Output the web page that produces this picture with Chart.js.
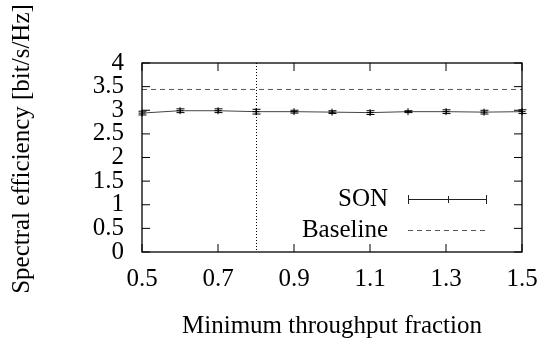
<!DOCTYPE html>
<html>
<head>
<meta charset="utf-8">
<script src="https://cdn.jsdelivr.net/npm/chart.js@4.4.0/dist/chart.umd.min.js"></script>
<style>
  body { margin: 0; background: #fff; }
  #wrap { width: 540px; height: 339px; }
</style>
</head>
<body>
<div id="wrap"><canvas id="grafico" width="540" height="339"></canvas></div>
<script>
// datos
const fracciones = [0.5, 0.6, 0.7, 0.8, 0.9, 1.0, 1.1, 1.2, 1.3, 1.4, 1.5];
const sonValores = [2.94, 2.99, 2.99, 2.97, 2.97, 2.96, 2.95, 2.97, 2.97, 2.96, 2.97];
const sonError = [0.04, 0.04, 0.04, 0.05, 0.03, 0.03, 0.04, 0.02, 0.04, 0.04, 0.04];
const baselineValor = 3.44;
const limiteVertical = 0.8;
const xTicks = [0.5, 0.7, 0.9, 1.1, 1.3, 1.5];
const xTickLabels = ['0.5', '0.7', '0.9', '1.1', '1.3', '1.5'];
const yTicks = [0, 0.5, 1, 1.5, 2, 2.5, 3, 3.5, 4];
const yTickLabels = ['0', '0.5', '1', '1.5', '2', '2.5', '3', '3.5', '4'];
const leyenda = ['SON', 'Baseline'];
const tituloY = 'Spectral efficiency [bit/s/Hz]';

const fuente = 'Liberation Serif';

// barras de error, linea vertical, marco, ticks hacia dentro, leyenda y titulo Y
const extras = {
  id: 'extras',
  beforeDatasetsDraw(chart) {
    const ctx = chart.ctx;
    const x = chart.scales.x, a = chart.chartArea;
    const px = x.getPixelForValue(limiteVertical);
    ctx.save();
    ctx.strokeStyle = '#000';
    ctx.lineWidth = 1;
    ctx.setLineDash([1, 2]);
    ctx.beginPath();
    ctx.moveTo(Math.round(px) + 0.5, a.top);
    ctx.lineTo(Math.round(px) + 0.5, a.bottom);
    ctx.stroke();
    ctx.restore();
  },
  afterDatasetsDraw(chart) {
    const ctx = chart.ctx;
    const x = chart.scales.x, y = chart.scales.y, a = chart.chartArea;
    ctx.save();
    ctx.strokeStyle = '#000';
    ctx.lineWidth = 1;

    // barras de error
    fracciones.forEach((f, i) => {
      const px = Math.round(x.getPixelForValue(f)) + 0.5;
      const y1 = y.getPixelForValue(sonValores[i] + sonError[i]);
      const y2 = y.getPixelForValue(sonValores[i] - sonError[i]);
      ctx.beginPath();
      ctx.moveTo(px, y1); ctx.lineTo(px, y2);
      ctx.moveTo(px - 4, y1); ctx.lineTo(px + 4, y1);
      ctx.moveTo(px - 4, y2); ctx.lineTo(px + 4, y2);
      ctx.stroke();
    });

    // marco
    ctx.lineWidth = 1.3;
    ctx.strokeRect(a.left, a.top, a.right - a.left, a.bottom - a.top);

    // ticks hacia dentro
    ctx.lineWidth = 1;
    const tl = 8;
    ctx.beginPath();
    xTicks.forEach(v => {
      const px = x.getPixelForValue(v);
      ctx.moveTo(px, a.bottom); ctx.lineTo(px, a.bottom - tl);
      ctx.moveTo(px, a.top); ctx.lineTo(px, a.top + tl);
    });
    yTicks.forEach(v => {
      const py = y.getPixelForValue(v);
      ctx.moveTo(a.left, py); ctx.lineTo(a.left + tl, py);
      ctx.moveTo(a.right, py); ctx.lineTo(a.right - tl, py);
    });
    ctx.stroke();

    // leyenda
    ctx.font = '25px "' + fuente + '"';
    ctx.fillStyle = '#000';
    ctx.textAlign = 'right';
    ctx.textBaseline = 'middle';
    const xt = 388, x1 = 408, x2 = 487;
    const ySon = 199, yBase = 230;
    ctx.fillText(leyenda[0], xt, ySon);
    ctx.fillText(leyenda[1], xt, yBase);

    ctx.strokeStyle = '#222';
    ctx.beginPath();
    ctx.moveTo(x1, ySon + 0.5); ctx.lineTo(x2, ySon + 0.5);
    ctx.moveTo(x1 + 0.5, ySon - 4); ctx.lineTo(x1 + 0.5, ySon + 5);
    ctx.moveTo(x2 - 0.5, ySon - 4); ctx.lineTo(x2 - 0.5, ySon + 5);
    const xm = Math.round((x1 + x2) / 2) + 0.5;
    ctx.moveTo(xm, ySon - 3); ctx.lineTo(xm, ySon + 4);
    ctx.stroke();

    ctx.strokeStyle = '#555';
    ctx.setLineDash([5, 4]);
    ctx.beginPath();
    ctx.moveTo(x1, yBase + 0.5); ctx.lineTo(x2, yBase + 0.5);
    ctx.stroke();

    // titulo del eje Y
    ctx.translate(22, 149);
    ctx.rotate(-Math.PI / 2);
    ctx.textAlign = 'center';
    ctx.fillText(tituloY, 0, 0);
    ctx.restore();
  }
};

window.onload = function () {
  const ctx = document.getElementById('grafico').getContext('2d');

  new Chart(ctx, {
    type: 'line',
    data: {
      datasets: [
        {
          label: leyenda[0],
          data: fracciones.map((f, i) => ({ x: f, y: sonValores[i] })),
          borderColor: '#444',
          borderWidth: 1,
          pointStyle: 'cross',
          pointRadius: 3.5,
          pointBorderColor: '#000',
          pointBorderWidth: 1,
          tension: 0,
          clip: false
        },
        {
          label: leyenda[1],
          data: [{ x: xTicks[0], y: baselineValor }, { x: xTicks[xTicks.length - 1], y: baselineValor }],
          borderColor: '#555',
          borderWidth: 1,
          borderDash: [5, 4],
          pointRadius: 0,
          tension: 0
        }
      ]
    },
    options: {
      responsive: false,
      animation: false,
      devicePixelRatio: 1,
      layout: { padding: { top: 63, right: 18, left: 0, bottom: 0 } },
      plugins: {
        legend: { display: false },
        tooltip: { enabled: false }
      },
      scales: {
        x: {
          type: 'linear',
          min: 0.5,
          max: 1.5,
          afterBuildTicks: s => { s.ticks = xTicks.map(v => ({ value: v })); },
          afterFit: s => { s.height = 87; s.paddingRight = 0; s.paddingLeft = 0; },
          grid: { display: false, drawTicks: false },
          border: { display: false },
          ticks: {
            autoSkip: false,
            maxRotation: 0,
            padding: 12,
            color: '#000',
            font: { family: fuente, size: 25 },
            callback: (v, i) => xTickLabels[i]
          },
          title: {
            display: true,
            text: 'Minimum throughput fraction',
            color: '#000',
            font: { family: fuente, size: 25, lineHeight: 1 },
            padding: { top: -1, bottom: 0 }
          }
        },
        y: {
          min: 0,
          max: 4,
          afterBuildTicks: s => { s.ticks = yTicks.map(v => ({ value: v })); },
          afterFit: s => { s.width = 142; s.paddingTop = 0; s.paddingBottom = 0; },
          grid: { display: false, drawTicks: false },
          border: { display: false },
          ticks: {
            autoSkip: false,
            padding: 18,
            color: '#000',
            font: { family: fuente, size: 25, lineHeight: 1 },
            callback: (v, i) => yTickLabels[i]
          }
        }
      }
    },
    plugins: [extras]
  });
};
</script>
</body>
</html>
